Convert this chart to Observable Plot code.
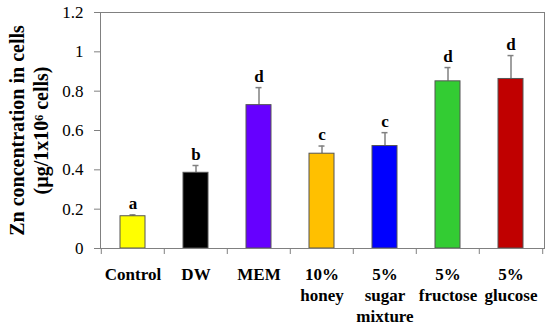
<!DOCTYPE html>
<html><head><meta charset="utf-8">
<script src="https://cdn.jsdelivr.net/npm/d3@7"></script>
<script src="https://cdn.jsdelivr.net/npm/@observablehq/plot@0.6"></script>
<style>body{margin:0;background:#fff} svg text{font-family:"Liberation Serif","Times New Roman",serif !important;}</style>
</head><body><div id="chart"></div>
<script>
const categories = ["Control","DW","MEM","10%\nhoney","5%\nsugar\nmixture","5%\nfructose","5%\nglucose"];
const values = [0.164,0.385,0.729,0.482,0.521,0.850,0.862];
const errors = [0.007,0.037,0.089,0.039,0.068,0.070,0.119];
const letters = ["a","b","d","c","c","d","d"];
const colors = ["#FFFF00","#000000","#6600FF","#FFC000","#0000FF","#33CC33","#C00000"];
const yTicks = [0,0.2,0.4,0.6,0.8,1,1.2];
const yTitle = "Zn concentration in cells\n(µg/1x10⁶ cells)";

const data = categories.map((c,i)=>({cat:c, value:values[i], err:errors[i], top:values[i]+errors[i], letter:letters[i], color:colors[i]}));
const W=550,H=327,mL=100,mR=6,mT=12,mB=79;
const step=(W-mL-mR)/categories.length;
const axisGray="#808080";
const serif="Liberation Serif";

const chart = Plot.plot({
  width:W, height:H, marginLeft:mL, marginRight:mR, marginTop:mT, marginBottom:mB,
  style:{fontFamily:serif, background:"#fff", color:"#000"},
  x:{domain:categories, paddingInner:0.6, paddingOuter:0.3, axis:null},
  y:{domain:[0,1.2], axis:null},
  color:{type:"identity"},
  marks:[
    Plot.axisY({ticks:yTicks, tickSize:6, tickPadding:11, tickFormat:d=>String(d), fontSize:17, fontFamily:serif, stroke:axisGray, fill:"#000", label:null}),
    Plot.axisX({tickSize:0, tickPadding:17, fontSize:17, fontWeight:"bold", fontFamily:serif, lineHeight:1.22, fill:"#000", label:null}),
    Plot.ruleX(categories,{x:d=>d, dx:-step/2, y1:0, y2:0, insetBottom:-6, stroke:axisGray}),
    Plot.ruleX([categories[categories.length-1]],{x:d=>d, dx:step/2, y1:0, y2:0, insetBottom:-6, stroke:axisGray}),
    Plot.ruleX(data,{x:"cat", y1:"value", y2:"top", stroke:axisGray, strokeWidth:1.5}),
    Plot.tickY(data,{x:"cat", y:"top", stroke:axisGray, strokeWidth:1.5, insetLeft:9.5, insetRight:9.5}),
    Plot.barY(data,{x:"cat", y:"value", fill:"color", stroke:"#555", strokeWidth:1}),
    Plot.text(data,{x:"cat", y:"top", text:"letter", dy:-6, lineAnchor:"bottom", fontWeight:"bold", fontSize:17, fontFamily:serif, fill:"#000"}),
    Plot.text([yTitle],{text:d=>d, frameAnchor:"left", textAnchor:"middle", dx:-72, rotate:-90, fontWeight:"bold", fontSize:20, fontFamily:serif, lineHeight:1.2, fill:"#000"}),
    Plot.frame({stroke:axisGray})
  ]
});
document.getElementById("chart").appendChild(chart);
</script>
</body></html>
